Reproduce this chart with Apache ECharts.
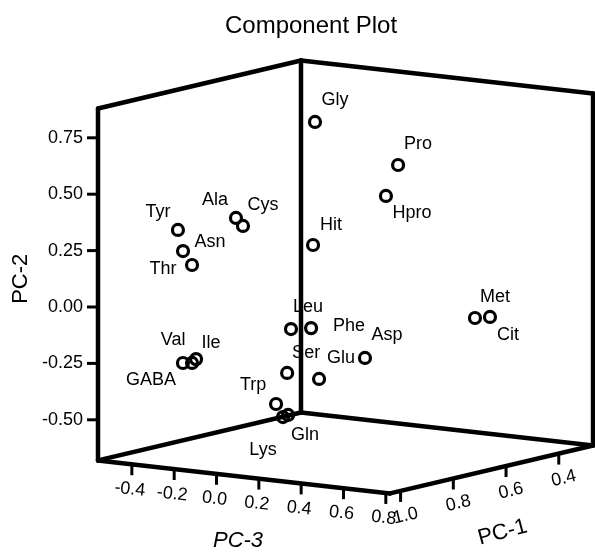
<!DOCTYPE html>
<html><head><meta charset="utf-8">
<script src="https://cdn.jsdelivr.net/npm/echarts@6/dist/echarts.min.js"></script>
<style>html,body{margin:0;padding:0;background:#fff}#c{width:595px;height:552px}</style>
</head><body><div id="c"></div>
<script>
// ---- data (component loadings) ----
const names = ['Tyr','Asn','Thr','Ala','Cys','GABA','Val','Ile','Gly','Pro','Hpro','Hit','Leu','Phe','Ser','Glu','Asp','Trp','Lys','Gln','Met','Cit'];
const pc1 = [0.85,0.85,0.88,0.80,0.80,0.88,0.90,0.90,0.55,0.45,0.48,0.60,0.80,0.78,0.85,0.70,0.55,0.90,0.95,0.93,0.40,0.38];
const pc2 = [0.304,0.213,0.168,0.366,0.334,-0.271,-0.258,-0.239,0.729,0.539,0.408,0.203,-0.099,-0.093,-0.275,-0.347,-0.292,-0.398,-0.432,-0.428,-0.121,-0.117];
const pc3 = [-0.419,-0.395,-0.315,-0.207,-0.174,-0.358,-0.290,-0.271,-0.145,0.123,0.103,-0.092,0.053,0.123,0.097,0.061,0.091,0.107,0.202,0.201,0.424,0.470];
const pc1Range = [0.27, 1.04];
const pc2Range = [-0.68, 0.88];
const pc3Range = [-0.56, 0.82];
const pc2Ticks = [-0.5, -0.25, 0, 0.25, 0.5, 0.75];
const pc3Ticks = [-0.4, -0.2, 0.0, 0.2, 0.4, 0.6, 0.8];
const pc1Ticks = [1.0, 0.8, 0.6, 0.4];

// ---- label placement (style only) ----
const labelOffset = {
  Tyr:[-20,-18], Asn:[27,-9], Thr:[-29,4], Ala:[-21,-18], Cys:[20,-21],
  GABA:[-32,17], Val:[-19,-23], Ile:[15,-16], Gly:[20,-22], Pro:[20,-21],
  Hpro:[26,17], Hit:[18,-20], Leu:[17,-22], Phe:[38,-2], Ser:[19,-20],
  Glu:[22,-21], Asp:[22,-23], Trp:[-23,-19], Lys:[-20,33], Gln:[17,20],
  Met:[20,-21], Cit:[18,18]
};

// oblique projection constants (screen skew of the depth axes)
const K1 = 1.2457, S3 = 0.106, S1 = 0.276;
function project(p1, p2, p3) {
  const d1 = pc1Range[1] - p1;
  return [p3 + d1 * K1, p2 - (p3 - pc3Range[0]) * S3 + d1 * S1];
}
const FONT = 'Liberation Sans, Arial, sans-serif';

const chart = echarts.init(document.getElementById('c'));
const pointData = names.map((n, i) => ({ name: n, value: [pc1[i], pc2[i], pc3[i]] }));

function line(api, a, b, w) {
  const p = api.coord(project(a[0], a[1], a[2]));
  const q = api.coord(project(b[0], b[1], b[2]));
  return { type: 'line', shape: { x1: p[0], y1: p[1], x2: q[0], y2: q[1] },
           style: { stroke: '#000', lineWidth: w, lineCap: 'round' } };
}
function txt(x, y, text, size, extra) {
  return Object.assign({ type: 'text', x: x, y: y,
    style: Object.assign({ text: text, fontFamily: FONT, fontSize: size, fill: '#000', align: 'center', verticalAlign: 'middle' }, (extra && extra.style) || {}) },
    extra && extra.rotation !== undefined ? { rotation: extra.rotation } : {});
}

chart.setOption({
  animation: false,
  title: { text: 'Component Plot', left: 225, top: 14, padding: 0,
    textStyle: { fontFamily: FONT, fontSize: 24, fontWeight: 'normal', color: '#000' } },
  grid: { left: 98, right: 2, top: 81.4, bottom: 75.8, containLabel: false, outerBoundsMode: 'none' },
  xAxis: { type: 'value', min: pc3Range[0], max: pc3Range[0] + 2.339, show: false },
  yAxis: { type: 'value', min: -0.75, max: 1.0, interval: 0.25, show: false },
  series: [
    {
      type: 'custom', name: 'frame', clip: false, silent: true,
      data: [[0, 0]],
      renderItem: (params, api) => {
        const [a1, b1] = pc1Range, [a2, b2] = pc2Range, [a3, b3] = pc3Range;
        const w = 4.5;
        return { type: 'group', children: [
          line(api, [b1, a2, a3], [b1, b2, a3], w),
          line(api, [a1, a2, a3], [a1, b2, a3], w),
          line(api, [a1, a2, b3], [a1, b2, b3], w),
          line(api, [b1, b2, a3], [a1, b2, a3], w),
          line(api, [b1, a2, a3], [a1, a2, a3], w),
          line(api, [a1, b2, a3], [a1, b2, b3], w),
          line(api, [a1, a2, a3], [a1, a2, b3], w),
          line(api, [b1, a2, a3], [b1, a2, b3], w),
          line(api, [b1, a2, b3], [a1, a2, b3], w)
        ]};
      }
    },
    {
      type: 'custom', name: 'PC-2 axis', clip: false, silent: true,
      data: pc2Ticks.map(t => [pc3Range[0], t]),
      renderItem: (params, api) => {
        const t = api.value(1);
        const p = api.coord(project(pc1Range[1], t, pc3Range[0]));
        return { type: 'group', children: [
          { type: 'line', shape: { x1: p[0], y1: p[1], x2: p[0] - 11, y2: p[1] }, style: { stroke: '#000', lineWidth: 3 } },
          txt(p[0] - 15, p[1], t.toFixed(2), 18, { style: { align: 'right' } })
        ]};
      }
    },
    {
      type: 'custom', name: 'PC-3 axis', clip: false, silent: true,
      data: pc3Ticks.map(t => [t, 0]),
      renderItem: (params, api) => {
        const t = api.value(0);
        const p = api.coord(project(pc1Range[1], pc2Range[0], t));
        return { type: 'group', children: [
          { type: 'line', shape: { x1: p[0], y1: p[1], x2: p[0], y2: p[1] + 11 }, style: { stroke: '#000', lineWidth: 3 } },
          txt(p[0] - 2, p[1] + 25, t.toFixed(1), 18, { rotation: -0.11 })
        ]};
      }
    },
    {
      type: 'custom', name: 'PC-1 axis', clip: false, silent: true,
      data: pc1Ticks.map(t => [t, 0]),
      renderItem: (params, api) => {
        const t = api.value(0);
        const p = api.coord(project(t, pc2Range[0], pc3Range[1]));
        return { type: 'group', children: [
          { type: 'line', shape: { x1: p[0], y1: p[1], x2: p[0], y2: p[1] + 11 }, style: { stroke: '#000', lineWidth: 3 } },
          txt(p[0] + 5, p[1] + 25, t.toFixed(1), 18, { rotation: 0.23 })
        ]};
      }
    },
    {
      type: 'custom', name: 'axis names', clip: false, silent: true,
      data: [[0, 0]],
      renderItem: (params, api) => {
        const m3 = api.coord(project(pc1Range[1], pc2Range[0], (pc3Range[0] + pc3Range[1]) / 2));
        const m1 = api.coord(project((pc1Range[0] + pc1Range[1]) / 2, pc2Range[0], pc3Range[1]));
        const m2 = api.coord(project(pc1Range[1], 0.125, pc3Range[0]));
        return { type: 'group', children: [
          txt(m3[0] - 6, m3[1] + 64, 'PC-3', 22, { style: { fontStyle: 'italic' } }),
          txt(m1[0] + 11, m1[1] + 63, 'PC-1', 22, { rotation: 0.26 }),
          txt(m2[0] - 77, m2[1], 'PC-2', 22, { rotation: Math.PI / 2 })
        ]};
      }
    },
    {
      type: 'custom', name: 'loadings', clip: false,
      encode: { x: 2, y: 1 },
      data: pointData,
      renderItem: (params, api) => {
        const p = api.coord(project(api.value(0), api.value(1), api.value(2)));
        const n = names[params.dataIndex];
        const off = labelOffset[n] || [18, -18];
        return { type: 'group', children: [
          { type: 'circle', shape: { cx: p[0], cy: p[1], r: 5.5 }, style: { fill: 'transparent', stroke: '#000', lineWidth: 3.2 } },
          txt(p[0] + off[0], p[1] + off[1], n, 18)
        ]};
      }
    }
  ]
});
</script>
</body></html>
